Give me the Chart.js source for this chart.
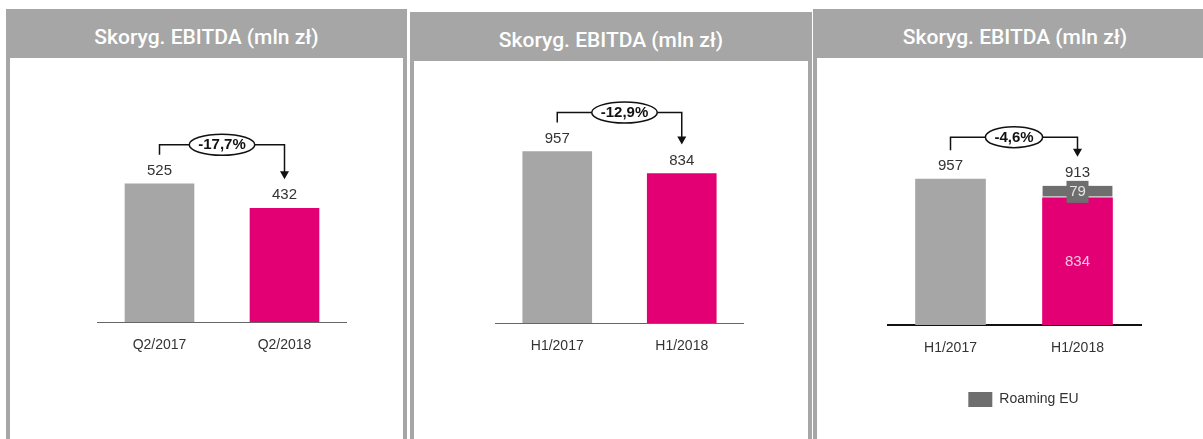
<!DOCTYPE html>
<html lang="pl">
<head>
<meta charset="utf-8">
<title>Skoryg. EBITDA (mln zł)</title>
<script src="https://cdn.jsdelivr.net/npm/chart.js@4.4.1/dist/chart.umd.min.js"></script>
<style>
  html, body { margin: 0; padding: 0; background: #fff; width: 1203px; height: 439px; overflow: hidden; }
  .panel { position: absolute; box-sizing: border-box; height: 480px; border: 4px solid #a6a6a6; border-bottom: none; }
  .panel .head {
    position: absolute; left: -4px; right: -4px; top: -4px; height: 49px;
    background: #a6a6a6; color: #fff; text-align: center;
    font: 500 21px Roboto, "Liberation Sans", sans-serif; line-height: 21px;
    box-sizing: border-box; padding-top: 18px;
  }
  canvas { position: absolute; }
</style>
</head>
<body>
<div class="panel" style="left:6px; top:9px; width:401px;"><div class="head">Skoryg. EBITDA (mln zł)</div></div>
<div class="panel" style="left:410px; top:12px; width:402px;"><div class="head">Skoryg. EBITDA (mln zł)</div></div>
<div class="panel" style="left:813px; top:9px; width:404px;"><div class="head">Skoryg. EBITDA (mln zł)</div></div>

<canvas id="c1" width="250" height="292" style="left:97px; top:70px;"></canvas>
<canvas id="c2" width="249" height="293" style="left:495px; top:70px;"></canvas>
<canvas id="c3" width="273" height="347" style="left:887px; top:70px;"></canvas>

<script>
  const MAGENTA = "#e20074";
  const GREY = "#a6a6a6";
  const DARK = "#6e6e6e";
  const FONT = '"Liberation Sans", Arial, sans-serif';

  Chart.defaults.font.family = FONT;
  Chart.defaults.color = "#333";

  // Values (mln zł)
  const panels = [
    { id: "c1", labels: ["Q2/2017", "Q2/2018"], values: [525, 432], max: 957, axis: { color: "#666", width: 1 } },
    { id: "c2", labels: ["H1/2017", "H1/2018"], values: [957, 834], max: 1412, axis: { color: "#666", width: 1 }, shift: 5 },
    { id: "c3", labels: ["H1/2017", "H1/2018"], values: [957, 834], roaming: [null, 79], max: 1673, axis: { color: "#111", width: 2 }, lift: 42 },
  ];

  // Value labels, change bracket with arrow and the percentage bubble
  const bracketPlugin = {
    id: "bracket",
    afterDatasetsDraw(chart, args, opts) {
      const ctx = chart.ctx;
      const y = chart.scales.y;
      const meta = chart.getDatasetMeta(0);
      const n = chart.data.labels.length;
      const totals = [];
      for (let i = 0; i < n; i++) {
        totals.push(chart.data.datasets.reduce((s, d) => s + (d.data[i] || 0), 0));
      }
      const xs = meta.data.map((b) => b.x);
      const tops = totals.map((t) => y.getPixelForValue(t));

      ctx.save();
      ctx.textAlign = "center";
      ctx.textBaseline = "middle";
      ctx.font = "15px " + FONT;
      ctx.fillStyle = "#333";
      totals.forEach((t, i) => ctx.fillText(String(t), xs[i], tops[i] - 13));

      // labels inside the stacked bar
      if (chart.data.datasets.length > 1) {
        const base = chart.data.datasets[0].data[1];
        const extra = chart.data.datasets[1].data[1];
        const midBase = (y.getPixelForValue(0) + y.getPixelForValue(base)) / 2;
        ctx.fillStyle = "#f6c6df";
        ctx.fillText(String(base), xs[1], midBase);
        const midExtra = (y.getPixelForValue(base) + y.getPixelForValue(base + extra)) / 2;
        ctx.fillStyle = DARK;
        ctx.fillRect(xs[1] - 11, midExtra - 11, 22, 22);
        ctx.fillStyle = "#e4e4e4";
        ctx.fillText(String(extra), xs[1], midExtra);
      }

      // bracket
      const lift = opts.lift || 39;
      const by = tops[0] - lift;
      const tip = tops[1] - 29;
      ctx.strokeStyle = "#111";
      ctx.lineWidth = 1.5;
      ctx.beginPath();
      ctx.moveTo(xs[0], tops[0] - 29);
      ctx.lineTo(xs[0], by);
      ctx.lineTo(xs[1], by);
      ctx.lineTo(xs[1], tip - 7);
      ctx.stroke();
      ctx.fillStyle = "#111";
      ctx.beginPath();
      ctx.moveTo(xs[1] - 4.5, tip - 8);
      ctx.lineTo(xs[1] + 4.5, tip - 8);
      ctx.lineTo(xs[1], tip);
      ctx.closePath();
      ctx.fill();

      // percentage bubble
      const pct = ((totals[1] / totals[0] - 1) * 100).toFixed(1).replace(".", ",") + "%";
      ctx.font = "bold 15px " + FONT;
      const tw = ctx.measureText(pct).width;
      const cx = (xs[0] + xs[1]) / 2 + (opts.shift || 0);
      ctx.beginPath();
      ctx.ellipse(cx, by, tw / 2 + 9, 10.5, 0, 0, Math.PI * 2);
      ctx.fillStyle = "#fff";
      ctx.fill();
      ctx.stroke();
      ctx.fillStyle = "#111";
      ctx.fillText(pct, cx, by + 0.5);
      ctx.restore();
    },
  };

  panels.forEach((p) => {
    const stacked = !!p.roaming;
    const datasets = [
      {
        label: "Skoryg. EBITDA",
        data: p.values,
        backgroundColor: [GREY, MAGENTA],
        barThickness: stacked ? 70 : 69,
      },
    ];
    if (stacked) {
      datasets.push({
        label: "Roaming EU",
        data: p.roaming,
        backgroundColor: DARK,
        borderColor: "#dcdcdc",
        borderWidth: { top: 0, left: 0, right: 0, bottom: 2 },
        borderSkipped: false,
        barThickness: 70,
      });
    }

    new Chart(document.getElementById(p.id), {
      type: "bar",
      data: { labels: p.labels, datasets },
      options: {
        responsive: false,
        animation: false,
        layout: { padding: 0 },
        scales: {
          x: {
            stacked,
            grid: { display: false, drawTicks: false },
            border: { display: true, color: p.axis.color, width: p.axis.width },
            ticks: { padding: 15, color: "#333", font: { size: 14 } },
            afterFit: (s) => { s.height = stacked ? 57 : 40; },
          },
          y: {
            display: stacked,
            position: "right",
            stacked,
            min: 0,
            max: p.max,
            grid: { display: false, drawTicks: false },
            border: { display: false },
            ticks: { display: false },
            // spare room on the right only for the legend panel
            afterFit: (s) => { s.width = stacked ? 19 : 0; },
          },
        },
        plugins: {
          tooltip: { enabled: false },
          legend: {
            display: stacked,
            position: "bottom",
            labels: {
              boxWidth: 24,
              boxHeight: 15,
              padding: 10,
              color: "#333",
              font: { size: 14 },
              generateLabels: (chart) =>
                Chart.defaults.plugins.legend.labels
                  .generateLabels(chart)
                  .filter((l) => l.datasetIndex === 1)
                  .map((l) => ({ ...l, lineWidth: 0 })),
            },
          },
          bracket: { lift: p.lift, shift: p.shift },
        },
      },
      plugins: [bracketPlugin],
    });
  });
</script>
</body>
</html>
